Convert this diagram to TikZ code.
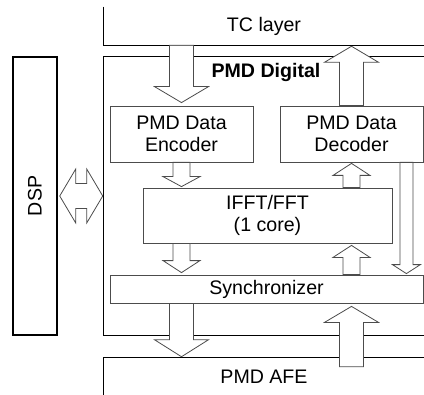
\documentclass[tikz,border=0pt]{standalone}
\usepackage{fontspec}
\setmainfont{Liberation Sans}
\usetikzlibrary{calc}

\newcommand{\blockarrow}[5]{%
  \coordinate (ba-tip) at (#2);
  \coordinate (ba-base) at ($(ba-tip)!#5*0.75pt!(#1)$);
  \draw[blockarr] ([xshift=-#3*0.75pt]#1) -- ([xshift=-#3*0.75pt]ba-base) -- ([xshift=-#4*0.75pt]ba-base) -- (ba-tip) -- ([xshift=#4*0.75pt]ba-base) -- ([xshift=#3*0.75pt]ba-base) -- ([xshift=#3*0.75pt]#1) -- cycle;}

\begin{document}
\begin{tikzpicture}[x=0.75pt,y=0.75pt,yscale=-1,xscale=1,
  every node/.style={font=\fontsize{14.7}{16.5}\selectfont, inner sep=0pt, align=center},
  layer/.style={line width=1.1pt},
  block/.style={draw=black!70, line width=0.6pt, fill=white},
  blockarr/.style={draw=black!70, line width=0.6pt, fill=white}]
\useasboundingbox (0,0) rectangle (424,395);

% outer layers
\node[minimum width=320*0.75pt, minimum height=38*0.75pt] (tc) at (264,26) {TC layer};
\draw[layer] (tc.north west) -- (tc.south west) -- (tc.south east);
\node[minimum width=320*0.75pt, minimum height=278*0.75pt] (dig) at (264,196) {};
\draw[layer] (dig.north east) -- (dig.north west) -- (dig.south west) -- (dig.south east);
\node[font=\fontsize{14.7}{16.5}\selectfont\bfseries] (diglabel) at ($(dig.north)+(2,16)$) {PMD Digital};
\node[draw, layer, minimum width=44*0.75pt, minimum height=278*0.75pt] (dsp) at (35,196) {\rotatebox{90}{DSP}};
\node[minimum width=320*0.75pt, minimum height=37*0.75pt] (afe) at (264,376.5) {PMD AFE};
\draw[layer] (afe.south west) -- (afe.north west) -- (afe.north east);

% inner blocks
\node[block, minimum width=143*0.75pt, minimum height=56*0.75pt] (enc) at (181.5,134) {PMD Data\\Encoder};
\node[block, minimum width=143*0.75pt, minimum height=56*0.75pt] (dec) at (351.5,134) {PMD Data\\Decoder};
\node[block, minimum width=249*0.75pt, minimum height=55*0.75pt] (fft) at (267.5,215.5) {IFFT/FFT\\(1 core)};
\node[block, minimum width=313*0.75pt, minimum height=28*0.75pt] (sync) at (266.5,289) {Synchronizer};

% data paths
\coordinate (a1) at (enc.north |- tc.south);
\blockarrow{a1}{$(enc.north)+(0,-3)$}{12}{27}{16}
\blockarrow{dec.north}{$(dec.north |- tc.south)+(0,1)$}{12}{27}{16}
\blockarrow{enc.south}{$(enc.south |- fft.north)+(0,-1)$}{8.5}{18.5}{10}
\coordinate (a4) at (dec.south |- fft.north);
\blockarrow{a4}{$(dec.south)+(0,1)$}{8.5}{18.5}{12}
\coordinate (a5) at (enc.south |- fft.south);
\blockarrow{a5}{$(enc.south |- sync.north)+(0,-2)$}{8.5}{18.5}{12}
\coordinate (a6) at (dec.south |- sync.north);
\blockarrow{a6}{$(dec.south |- fft.south)+(0,2)$}{8.5}{18.5}{12}
\coordinate (a7) at ($(dec.south east)+(-17,0)$);
\blockarrow{a7}{$(a7 |- sync.north)+(0,-1)$}{6.5}{14}{9}
\coordinate (a8) at (enc.south |- sync.south);
\blockarrow{a8}{$(a8 |- afe.north)+(0,-1)$}{12}{27}{17}
\coordinate (a9) at ($(dec.south |- afe.north)+(0,9)$);
\blockarrow{a9}{$(dec.south |- sync.south)+(0,3)$}{12}{27}{16}

% DSP link
\coordinate (dl) at ($(dsp.east)+(2,0)$);
\draw[blockarr] (dl) -- ++(16,-27) -- ++(0,14.5) -- ++(11,0) -- ++(0,-14.5) -- ++(16,27) -- ++(-16,27) -- ++(0,-14.5) -- ++(-11,0) -- ++(0,14.5) -- cycle;
\end{tikzpicture}
\end{document}
